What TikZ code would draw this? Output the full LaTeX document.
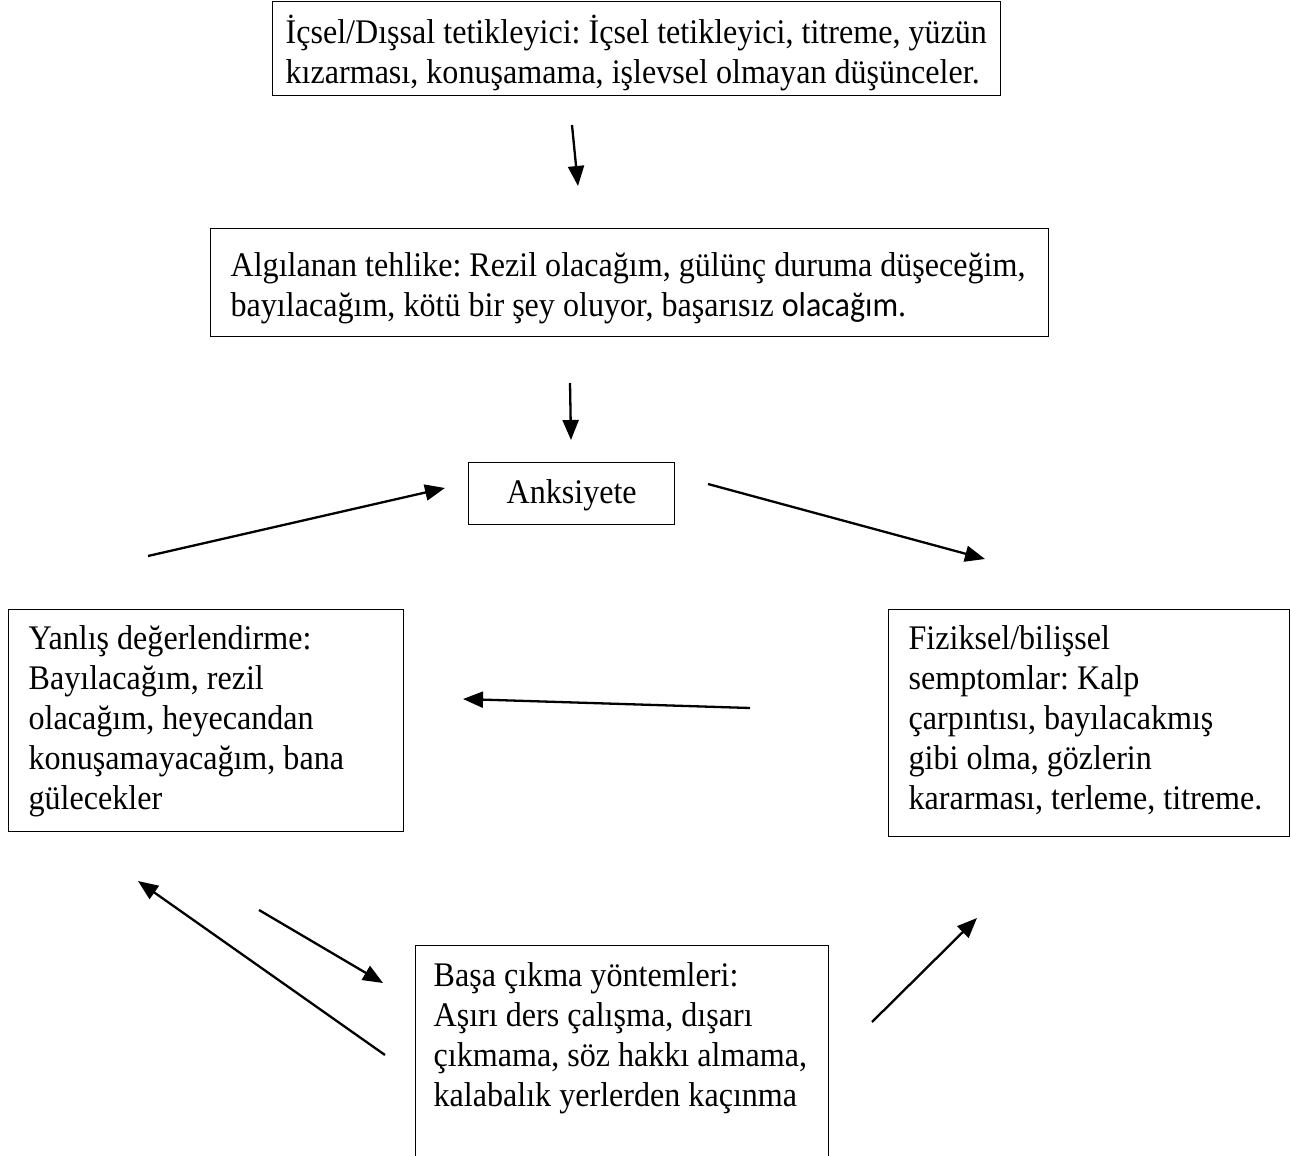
\documentclass[tikz,border=0pt]{standalone}
\usepackage{fontspec}
\setmainfont{Liberation Serif}[FakeStretch=0.93]
\newfontfamily\calibrifont{Carlito}[FakeStretch=0.93]
\usepackage{tikz}
\usetikzlibrary{arrows.meta}
\frenchspacing

\begin{document}
\begin{tikzpicture}[
  x=1pt, y=-1pt, font=\fontsize{34.5}{40}\selectfont,
  box/.style={draw, line width=1.3pt, anchor=north west, align=flush left,
              inner ysep=0pt, inner xsep=20pt},
  arr/.style={line width=2.3pt, -{Triangle[length=20pt, width=16pt]}}
]
  \useasboundingbox (0,0) rectangle (1291,1156);

  \node[box, inner xsep=13pt, text width=702pt, text height=42pt, text depth=52pt]
    (trigger) at (272,1)
    {İçsel/Dışsal tetikleyici: İçsel tetikleyici, titreme, yüzün\\
     kızarması, konuşamama, işlevsel olmayan düşünceler.};
  \node[box, inner xsep=20pt, text width=798pt, text height=48pt, text depth=60pt]
    (threat) at (210,228)
    {Algılanan tehlike: Rezil olacağım, gülünç duruma düşeceğim,\\
     bayılacağım, kötü bir şey oluyor, başarısız {\calibrifont olacağım}.};
  \node[box, align=center, minimum width=206pt, text height=41pt, text depth=21pt]
    (anx) at (468,462) {Anksiyete};
  \node[box, text width=355pt, text height=40pt, text depth=182pt]
    (apprais) at (8,609)
    {Yanlış değerlendirme:\\ Bayılacağım, rezil\\ olacağım, heyecandan\\
     konuşamayacağım, bana\\ gülecekler};
  \node[box, text width=361pt, text height=40pt, text depth=187pt]
    (symptom) at (888,609)
    {Fiziksel/bilişsel\\ semptomlar: Kalp\\ çarpıntısı, bayılacakmış\\
     gibi olma, gözlerin\\ kararması, terleme, titreme.};
  \node[box, inner xsep=18pt, text width=377pt, text height=41pt, text depth=170pt]
    (coping) at (415,945)
    {Başa çıkma yöntemleri:\\ Aşırı ders çalışma, dışarı\\
     çıkmama, söz hakkı almama,\\ kalabalık yerlerden kaçınma};

  % free arrow ends
  \coordinate (tr-a) at (572,125);  \coordinate (tr-b) at (578,186);
  \coordinate (th-a) at (570,383);  \coordinate (th-b) at (571,440);
  \coordinate (ap-a) at (148,556);  \coordinate (ap-b) at (445,488);
  \coordinate (an-a) at (708,484);  \coordinate (an-b) at (985,559);
  \coordinate (sy-a) at (750,708);  \coordinate (sy-b) at (463,699);
  \coordinate (co-a) at (385,1055); \coordinate (co-b) at (138,881);
  \coordinate (ac-a) at (259,910);  \coordinate (ac-b) at (383,983);
  \coordinate (cs-a) at (872,1022); \coordinate (cs-b) at (977,918);

  \draw[arr] (tr-a) -- (tr-b);
  \draw[arr] (th-a) -- (th-b);
  \draw[arr] (ap-a) -- (ap-b);
  \draw[arr] (an-a) -- (an-b);
  \draw[arr] (sy-a) -- (sy-b);
  \draw[arr] (co-a) -- (co-b);
  \draw[arr] (ac-a) -- (ac-b);
  \draw[arr] (cs-a) -- (cs-b);
\end{tikzpicture}
\end{document}
